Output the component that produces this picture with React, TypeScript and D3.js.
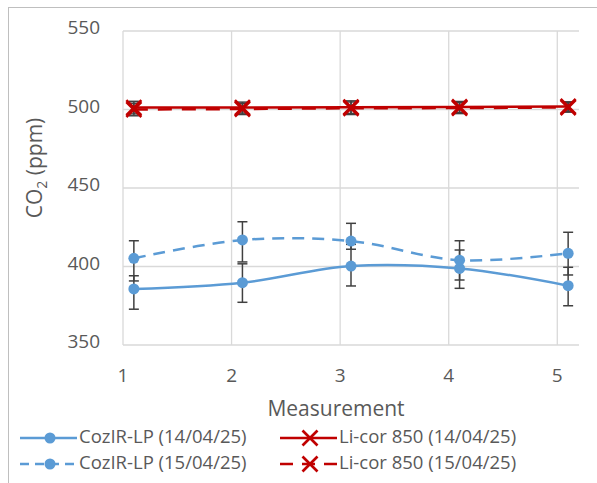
import * as d3 from "d3";

// x positions of the points (Excel scatter, slightly offset from the integer ticks)
const measurements = [1.1, 2.1, 3.1, 4.1, 5.1];
const xTicks = [1, 2, 3, 4, 5];
const yTicks = [350, 400, 450, 500, 550];

const cozir14 = [385.7, 389.7, 400.3, 398.8, 387.8];
const cozir14Up = [8.4, 12, 13.8, 11.7, 11.7];
const cozir14Down = [12.9, 12.5, 12.7, 12.7, 12.8];

const cozir15 = [405.2, 416.9, 416.2, 404.0, 408.4];
const cozir15Up = [11.2, 11.6, 11.3, 12.4, 13.4];
const cozir15Down = [14.4, 14.0, 5.2, 12.6, 13.8];

const licor14 = [501.2, 501.2, 501.5, 501.6, 501.9];
const licor15 = [500.0, 500.3, 500.8, 500.9, 501.3];
const licorErr = [4, 3.5, 4, 3.5, 3];

const BLUE = "#5b9bd5";
const RED = "#c00000";
const ERR = "#404040";
const TEXT = "#595959";
const FONT = "'Open Sans', 'Liberation Sans', sans-serif";

type Series = {
  label: string;
  values: number[];
  up: number[];
  down: number[];
  color: string;
  dash?: string;
  marker: "circle" | "x";
  smooth: boolean;
};

const series: Series[] = [
  { label: "CozIR-LP (14/04/25)", values: cozir14, up: cozir14Up, down: cozir14Down, color: BLUE, marker: "circle", smooth: true },
  { label: "CozIR-LP (15/04/25)", values: cozir15, up: cozir15Up, down: cozir15Down, color: BLUE, dash: "12 8", marker: "circle", smooth: true },
  { label: "Li-cor 850 (14/04/25)", values: licor14, up: licorErr, down: licorErr, color: RED, marker: "x", smooth: false },
  { label: "Li-cor 850 (15/04/25)", values: licor15, up: licorErr, down: licorErr, color: RED, dash: "14 10", marker: "x", smooth: false },
];

const Marker = ({ kind, x, y, color }: { kind: string; x: number; y: number; color: string }) => {
  if (kind === "circle") return <circle cx={x} cy={y} r={5.5} fill={color} />;
  const s = 7.5;
  return (
    <g stroke={color} strokeWidth={2.6}>
      <line x1={x - s} y1={y - s} x2={x + s} y2={y + s} />
      <line x1={x - s} y1={y + s} x2={x + s} y2={y - s} />
    </g>
  );
};

const App = () => {
  const w = 597;
  const h = 483;
  const x = d3.scaleLinear().domain([1, 5.2]).range([123, 579]);
  const y = d3.scaleLinear().domain([350, 550]).range([345, 31]);

  const legendPos = [
    { lx: 20, ly: 438 },
    { lx: 20, ly: 464 },
    { lx: 280, ly: 438 },
    { lx: 280, ly: 464 },
  ];

  return (
    <svg width={w} height={h} style={{ position: "absolute", left: 0, top: 0, background: "#fff" }} fontFamily={FONT}>
      <rect x={8.5} y={7.5} width={700} height={600} fill="none" stroke="#bfbfbf" />

      {/* grid */}
      {yTicks.map((t) => (
        <line key={"gy" + t} x1={x(1)} x2={579} y1={y(t)} y2={y(t)} stroke="#d9d9d9" strokeWidth={1.3} />
      ))}
      {xTicks.map((t) => (
        <line key={"gx" + t} x1={x(t)} x2={x(t)} y1={y(350)} y2={y(550)} stroke="#d9d9d9" strokeWidth={1.3} />
      ))}

      {/* tick labels */}
      {yTicks.map((t) => (
        <text key={"ty" + t} x={100} y={y(t) - 2} textAnchor="end" dominantBaseline="middle" fontSize={19} fill={TEXT}>
          {t}
        </text>
      ))}
      {xTicks.map((t) => (
        <text key={"tx" + t} x={x(t)} y={382} textAnchor="middle" fontSize={19} fill={TEXT}>
          {t}
        </text>
      ))}

      <text x={336} y={416} textAnchor="middle" fontSize={21} fill={TEXT}>
        Measurement
      </text>
      <text transform="translate(42,168) rotate(-90)" textAnchor="middle" fontSize={21} fill={TEXT}>
        CO<tspan fontSize={14} dy={5}>2</tspan>
        <tspan dy={-5}> (ppm)</tspan>
      </text>

      {/* lines */}
      {series.map((s) => {
        const line = d3
          .line<number>()
          .x((_, i) => x(measurements[i]))
          .y((d) => y(d))
          .curve(s.smooth ? d3.curveCatmullRom.alpha(0.5) : d3.curveLinear);
        return (
          <path key={"l" + s.label} d={line(s.values) || ""} fill="none" stroke={s.color} strokeWidth={2.5} strokeDasharray={s.dash} />
        );
      })}

      {/* error bars */}
      {series.map((s) =>
        s.values.map((v, i) => {
          const cx = x(measurements[i]);
          const top = y(v + s.up[i]);
          const bot = y(v - s.down[i]);
          return (
            <g key={"e" + s.label + i} stroke={ERR} strokeWidth={1.5}>
              <line x1={cx} x2={cx} y1={top} y2={bot} />
              <line x1={cx - 5} x2={cx + 5} y1={top} y2={top} />
              <line x1={cx - 5} x2={cx + 5} y1={bot} y2={bot} />
            </g>
          );
        })
      )}

      {/* markers */}
      {series.map((s) =>
        s.values.map((v, i) => (
          <Marker key={"m" + s.label + i} kind={s.marker} x={x(measurements[i])} y={y(v)} color={s.color} />
        ))
      )}

      {/* legend */}
      {series.map((s, i) => {
        const { lx, ly } = legendPos[i];
        return (
          <g key={"lg" + s.label}>
            <line x1={lx} x2={lx + 57} y1={ly} y2={ly} stroke={s.color} strokeWidth={2.5} strokeDasharray={s.dash ? (s.marker === "x" ? "13 9" : "9 6") : undefined} />
            <Marker kind={s.marker} x={lx + 30} y={ly} color={s.color} />
            <text x={lx + 59} y={ly} dominantBaseline="middle" fontSize={18.5} fill={TEXT}>
              {s.label}
            </text>
          </g>
        );
      })}
    </svg>
  );
};

export default App;
